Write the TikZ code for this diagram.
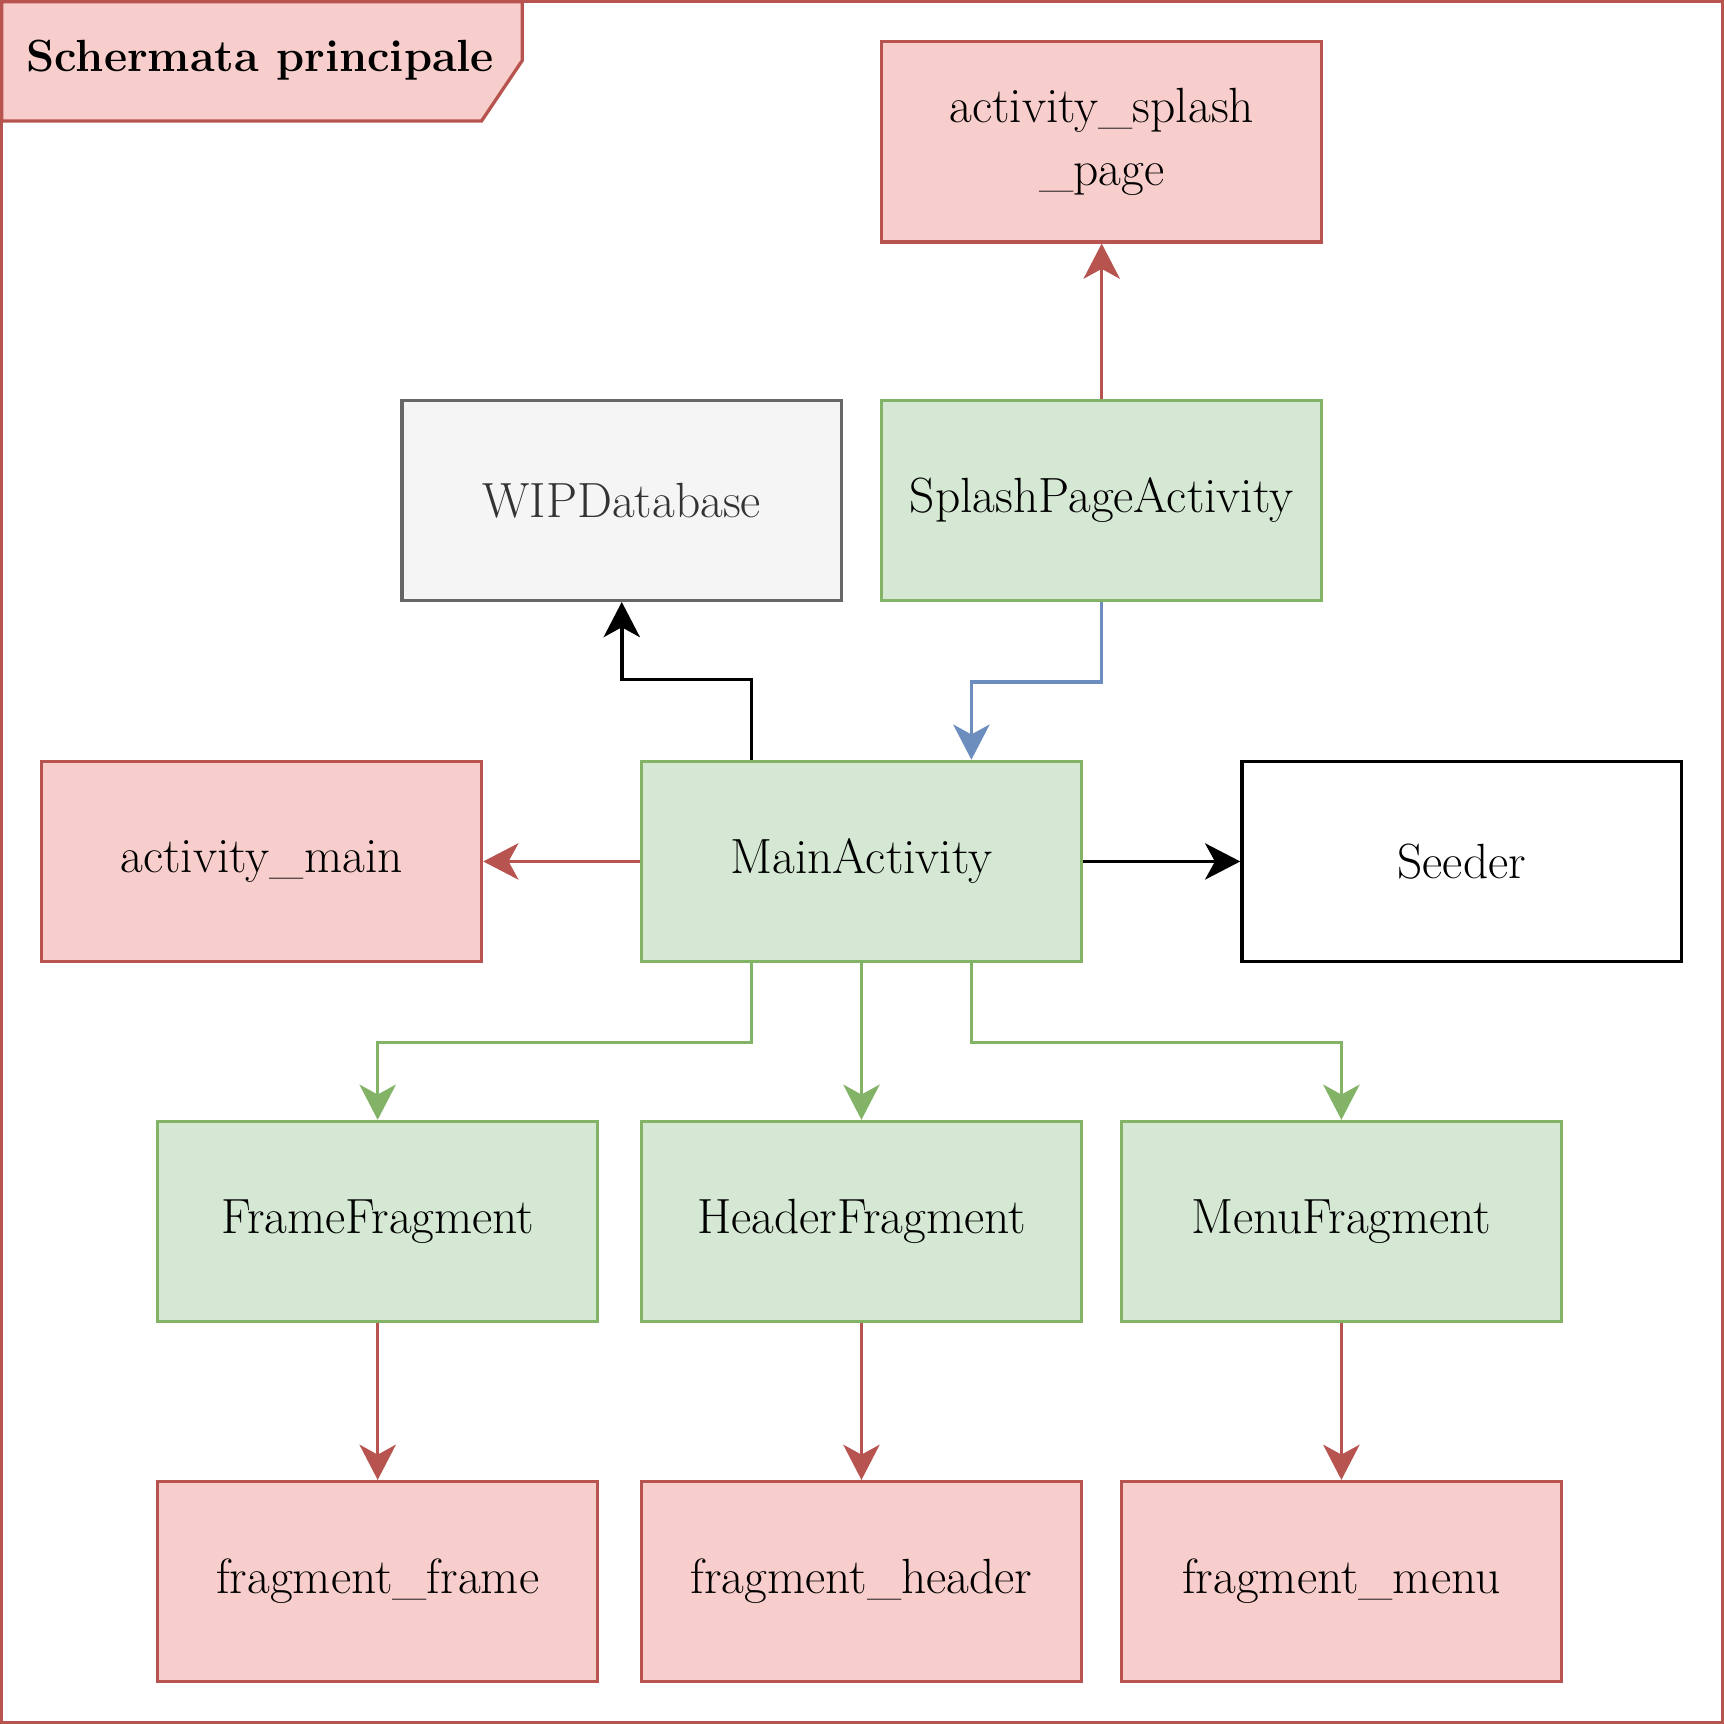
\documentclass[tikz,border=0pt]{standalone}
\usetikzlibrary{arrows.meta}
\definecolor{redfill}{HTML}{F8CECC}
\definecolor{redline}{HTML}{B85450}
\definecolor{greenfill}{HTML}{D5E8D4}
\definecolor{greenline}{HTML}{82B366}
\definecolor{blueline}{HTML}{6C8EBF}
\definecolor{grayfill}{HTML}{F5F5F5}
\definecolor{grayline}{HTML}{666666}
\definecolor{graytext}{HTML}{333333}
\tikzset{
  box/.style={rectangle, minimum width=400pt, minimum height=182pt, line width=3pt, inner sep=0pt,
    font=\fontsize{45}{58}\selectfont, align=center},
  redbox/.style={box, fill=redfill, draw=redline},
  greenbox/.style={box, fill=greenfill, draw=greenline},
  graybox/.style={box, fill=grayfill, draw=grayline, text=graytext},
  whitebox/.style={box, fill=white, draw=black},
  conn/.style={line width=3.2pt, -{Stealth[length=32pt, width=33pt, inset=9pt]}},
}
\begin{document}
\begin{tikzpicture}[x=1pt, y=-1pt]
\useasboundingbox (0,0) rectangle (1568,1568);
\fill[white] (0,0) rectangle (1568,1568);
\draw[redline, line width=3pt] (1.5,1.5) rectangle (1566.5,1566.5);
\filldraw[fill=redfill, draw=redline, line width=3pt] (1.5,1.5) -- (475,1.5) -- (475,55) -- (438,110) -- (1.5,110) -- cycle;
\node[anchor=west, font=\fontsize{41}{48}\selectfont\bfseries, inner sep=0pt] (title) at (24,55) {Schermata principale};

\node[redbox] (splash) at (1002,129) {activity\_splash\\\_page};
\node[graybox] (wip) at (565.5,455) {WIPDatabase};
\node[greenbox] (spa) at (1002,455) {SplashPageActivity};
\node[redbox] (amain) at (238,783.5) {activity\_main};
\node[greenbox] (main) at (783.5,783.5) {MainActivity};
\node[whitebox] (seeder) at (1329.5,783.5) {Seeder};
\node[greenbox] (frameF) at (343.5,1111) {FrameFragment};
\node[greenbox] (headerF) at (783.5,1111) {HeaderFragment};
\node[greenbox] (menuF) at (1220,1111) {MenuFragment};
\node[redbox] (ffr) at (343.5,1438.5) {fragment\_frame};
\node[redbox] (fhd) at (783.5,1438.5) {fragment\_header};
\node[redbox] (fmn) at (1220,1438.5) {fragment\_menu};

\draw[conn, redline] (spa.north) -- (splash.south);
\draw[conn, blueline] (spa.south) -- ++(0,73) -| ([xshift=100pt]main.north);
\draw[conn, black] ([xshift=-100pt]main.north) -- ++(0,-73) -| (wip.south);
\draw[conn, redline] (main.west) -- (amain.east);
\draw[conn, black] (main.east) -- (seeder.west);
\draw[conn, greenline] ([xshift=-100pt]main.south) -- ++(0,72) -| (frameF.north);
\draw[conn, greenline] (main.south) -- (headerF.north);
\draw[conn, greenline] ([xshift=100pt]main.south) -- ++(0,72) -| (menuF.north);
\draw[conn, redline] (frameF.south) -- (ffr.north);
\draw[conn, redline] (headerF.south) -- (fhd.north);
\draw[conn, redline] (menuF.south) -- (fmn.north);
\end{tikzpicture}
\end{document}
